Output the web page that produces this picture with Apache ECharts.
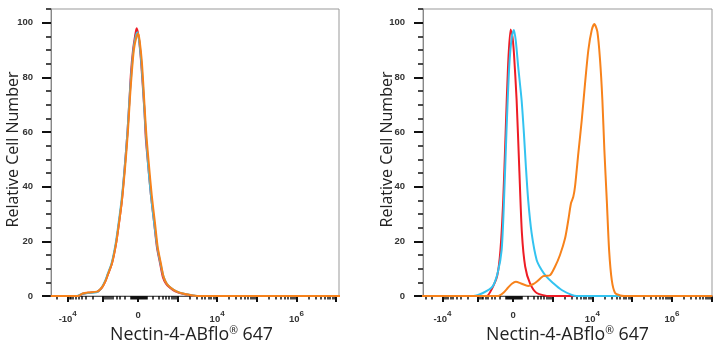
<!DOCTYPE html>
<html><head><meta charset="utf-8">
<script src="https://cdn.jsdelivr.net/npm/echarts@6/dist/echarts.min.js"></script>
<style>html,body{margin:0;padding:0;background:#fff}#c{width:720px;height:350px}</style>
</head><body><div id="c"></div>
<script>
// x = biexponential display position (decade units, 0 = zero intensity), y = relative cell number
const leftRed = [[-2.2,0],[-1.52,0],[-1.39,0.8],[-1.26,1.2],[-1.04,1.5],[-0.96,2.3],[-0.89,3.6],[-0.82,5.6],[-0.76,8],[-0.66,12],[-0.56,19],[-0.49,26],[-0.41,35],[-0.34,47],[-0.27,60],[-0.22,72],[-0.18,82],[-0.13,90],[-0.08,95],[-0.04,98],[0.01,95],[0.06,88],[0.11,78],[0.16,67],[0.19,58],[0.25,48],[0.32,37],[0.40,27],[0.47,18],[0.55,12],[0.62,7],[0.70,4.5],[0.80,3],[0.92,1.8],[1.12,0.8],[1.35,0.2],[1.55,0],[5.1,0]];
const leftCyan = [[-2.2,0],[-1.55,0],[-1.40,0.8],[-1.26,1.1],[-1.05,1.4],[-0.97,2.2],[-0.90,3.6],[-0.83,5.6],[-0.77,8],[-0.67,12],[-0.57,19],[-0.50,26],[-0.42,35],[-0.34,47],[-0.27,60],[-0.22,72],[-0.17,82],[-0.12,90],[-0.07,94.5],[-0.02,96.5],[0.02,94],[0.07,87],[0.12,77],[0.16,67],[0.20,58],[0.25,48],[0.32,37],[0.40,27],[0.48,18],[0.56,12],[0.64,7],[0.72,4.5],[0.82,3],[0.95,1.8],[1.15,0.8],[1.38,0.2],[1.58,0],[5.1,0]];
const leftOrange = [[-2.2,0],[-1.52,0],[-1.40,0.9],[-1.26,1.3],[-1.04,1.6],[-0.96,2.4],[-0.89,3.6],[-0.82,5.6],[-0.76,8],[-0.66,12],[-0.56,19],[-0.49,26],[-0.41,35],[-0.33,47],[-0.26,60],[-0.21,72],[-0.16,82],[-0.11,90],[-0.05,94.5],[0.0,96],[0.04,93],[0.09,86],[0.13,77],[0.17,67],[0.21,58],[0.27,48],[0.34,37],[0.42,27],[0.49,18],[0.57,12],[0.64,7],[0.72,4.5],[0.82,3],[0.95,1.8],[1.15,0.8],[1.38,0.2],[1.58,0],[5.1,0]];
const rightRed = [[-2.3,0],[-0.67,0],[-0.54,2.5],[-0.40,7.5],[-0.32,16.8],[-0.25,35],[-0.19,59.6],[-0.13,83.8],[-0.065,97.5],[-0.02,95],[0.018,89],[0.086,71.7],[0.151,47.3],[0.219,23],[0.302,10.7],[0.42,4.7],[0.59,1.1],[0.92,0],[5.0,0]];
const rightCyan = [[-2.3,0],[-1.0,0],[-0.76,1.1],[-0.52,3.4],[-0.39,8.4],[-0.29,16.8],[-0.23,35],[-0.17,59.6],[-0.10,83.8],[-0.033,95],[0.018,97.3],[0.068,93],[0.126,83.8],[0.211,71.7],[0.269,59.6],[0.319,47.3],[0.377,35],[0.463,23],[0.589,13.2],[0.714,9.5],[0.84,7],[1.006,4.7],[1.218,2.2],[1.469,0.4],[1.595,0],[5.0,0]];
const rightOrange = [[-2.3,0],[-0.377,0],[-0.252,1.1],[-0.133,3],[-0.033,4.5],[0.068,5.2],[0.194,4.6],[0.377,3.7],[0.496,4.3],[0.589,5.2],[0.755,7.3],[0.923,7.6],[1.049,10.7],[1.175,15],[1.301,21],[1.384,27.8],[1.452,34],[1.509,36.3],[1.552,40],[1.635,52.2],[1.721,64.3],[1.804,77.8],[1.887,90],[1.972,97.3],[2.038,99.5],[2.113,96.7],[2.181,86.3],[2.239,71.7],[2.289,53.4],[2.35,35],[2.408,16.8],[2.475,5.8],[2.558,1.1],[2.684,0.2],[2.785,0],[5.0,0]];

const xLabelValues = [-1e4, 0, 1e4, 1e6];
const xLabelTexts = ['{b|-10}{s|4}', '{b|0}', '{b|10}{s|4}', '{b|10}{s|6}'];
const xMajorValues = [-1e4, -1e3, 0, 1e3, 1e4, 1e5, 1e6, 1e7];
const yMax = 105, yMajorStep = 20, yMinorStep = 5;
const colors = ['#ee1c25', '#33c3f0', '#f7821b'];

// biexponential display transform
const W = 205.8, NEG = 0.893;
function biex(v){ return v >= 0 ? Math.asinh(v / W) / Math.LN10 : -NEG * Math.asinh(-v / W) / Math.LN10; }

const xMinorValues = [];
for (let k = 1; k <= 6; k++) for (let m = 2; m <= 9; m++) xMinorValues.push(m * Math.pow(10, k));
for (let k = 1; k <= 4; k++) for (let m = 2; m <= 9; m++) xMinorValues.push(-m * Math.pow(10, k));
[10, 100, -10, -100].forEach(v => xMinorValues.push(v));

const panels = [
  {left: 51, width: 288, min: -2.196, max: 5.057, titlePad: [0, 7, 0, 0], yGap: 29.5, data: [leftRed, leftCyan, leftOrange]},
  {left: 423, width: 289, min: -2.264, max: 4.991, titlePad: [0, 0, 0, 0], yGap: 27.5, data: [rightRed, rightCyan, rightOrange]}
];

const labelT = xLabelValues.map(biex);
const grids = [], xAxes = [], yAxes = [], series = [];
panels.forEach((p, i) => {
  grids.push({left: p.left, top: 9, width: p.width, height: 287, show: true, borderColor: '#999', borderWidth: 1, outerBoundsMode: 'none', containLabel: false});
  const inRange = arr => arr.map(biex).filter(t => t >= p.min - 1e-9 && t <= p.max + 1e-9);
  xAxes.push({
    gridIndex: i, type: 'value', min: p.min, max: p.max, position: 'bottom',
    splitLine: {show: false},
    axisLine: {show: true, onZero: false, lineStyle: {color: '#555', width: 1}},
    axisTick: {show: true, customValues: inRange(xMajorValues), length: 6, lineStyle: {color: '#111', width: 2}},
    axisLabel: {
      show: true, customValues: labelT, margin: 14, color: '#333',
      formatter: v => { const j = labelT.findIndex(t => Math.abs(t - v) < 1e-6); return j >= 0 ? xLabelTexts[j] : ''; },
      rich: {
        b: {fontSize: 9.5, fontWeight: 'bold', color: '#333', fontFamily: 'Liberation Sans', verticalAlign: 'bottom'},
        s: {fontSize: 8, fontWeight: 'bold', color: '#333', fontFamily: 'Liberation Sans', verticalAlign: 'bottom', padding: [0, 0, 6, 0]}
      }
    },
    name: '{n|Nectin-4-ABflo}{r|®}{n| 647}', nameLocation: 'middle', nameGap: 30, nameMoveOverlap: false,
    nameTextStyle: {
      padding: p.titlePad,
      rich: {
        n: {fontSize: 17.8, color: '#222', fontFamily: 'Open Sans', verticalAlign: 'bottom'},
        r: {fontSize: 10.5, color: '#222', fontFamily: 'Open Sans', verticalAlign: 'bottom', padding: [0, 0, 7, 0]}
      }
    }
  });
  xAxes.push({
    gridIndex: i, type: 'value', min: p.min, max: p.max, position: 'bottom',
    splitLine: {show: false}, axisLine: {show: false, onZero: false}, axisLabel: {show: false},
    axisTick: {show: true, customValues: inRange(xMinorValues), length: 3.5, lineStyle: {color: '#111', width: 1.5}}
  });
  yAxes.push({
    gridIndex: i, type: 'value', min: 0, max: yMax, interval: yMajorStep, position: 'left',
    splitLine: {show: false},
    axisLine: {show: true, onZero: false, lineStyle: {color: '#888', width: 1}},
    axisTick: {show: true, inside: false, length: 9, lineStyle: {color: '#111', width: 2}},
    axisLabel: {show: true, showMaxLabel: false, margin: 18, fontSize: 9.5, fontWeight: 'bold', color: '#333', fontFamily: 'Liberation Sans',
      formatter: v => (v % yMajorStep === 0 ? String(v) : '')},
    name: 'Relative Cell Number', nameLocation: 'middle', nameRotate: 90, nameGap: p.yGap, nameMoveOverlap: false,
    nameTextStyle: {fontSize: 16, color: '#222', fontFamily: 'Open Sans', padding: [0, 0, 0, 6]}
  });
  yAxes.push({
    gridIndex: i, type: 'value', min: 0, max: yMax, interval: yMinorStep, position: 'left', offset: 0,
    splitLine: {show: false}, axisLine: {show: false, onZero: false}, axisLabel: {show: false},
    axisTick: {show: true, inside: false, length: 5, lineStyle: {color: '#111', width: 1.5}}
  });
  p.data.forEach((d, k) => {
    series.push({
      type: 'line', xAxisIndex: i * 2, yAxisIndex: i * 2, data: d,
      showSymbol: false, smooth: 0.25, lineStyle: {width: 2, color: colors[k]}, itemStyle: {color: colors[k]},
      silent: true, animation: false
    });
  });
});

const chart = echarts.init(document.getElementById('c'), null, {renderer: 'canvas'});
chart.setOption({animation: false, grid: grids, xAxis: xAxes, yAxis: yAxes, series: series});
</script></body></html>
